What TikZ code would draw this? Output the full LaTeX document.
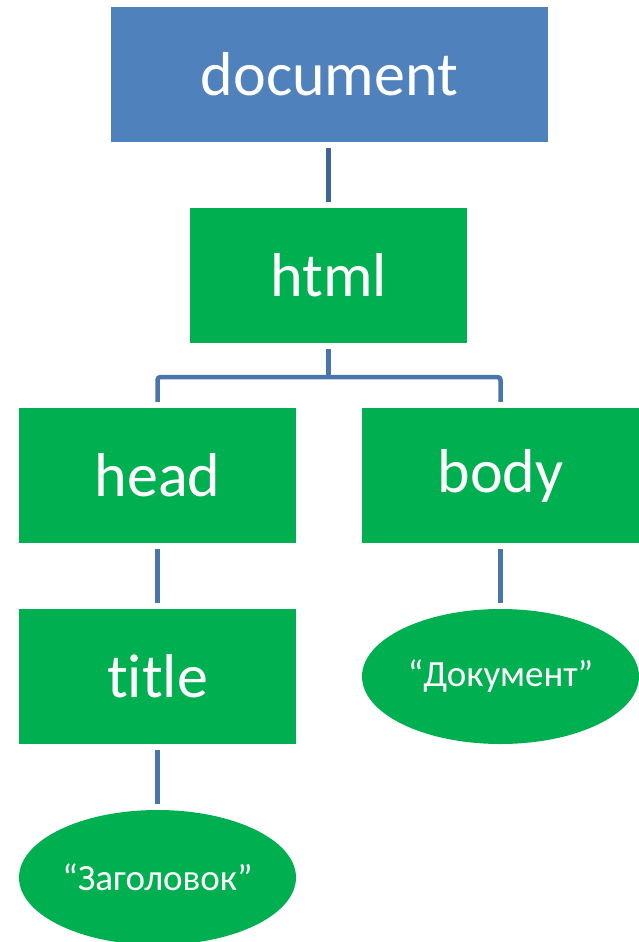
\documentclass[tikz,border=0pt]{standalone}
\usepackage{fontspec}
\setmainfont{Carlito}[Ligatures={NoCommon}]
\usetikzlibrary{shapes.geometric}
\definecolor{docblue}{HTML}{4F81BD}
\definecolor{leafgreen}{HTML}{00B050}
\definecolor{linkblue}{HTML}{4A74AC}
\definecolor{linkdark}{HTML}{3C6596}
\tikzset{
  box/.style={fill=leafgreen, text=white, minimum width=277pt, minimum height=135pt,
    inner sep=0pt, font=\fontsize{62}{70}\selectfont},
  rootbox/.style={box, fill=docblue, minimum width=437pt},
  leaf/.style={ellipse, fill=leafgreen, text=white, minimum width=277pt, minimum height=135pt,
    inner sep=0pt, font=\fontsize{37}{42}\selectfont},
  link/.style={draw=linkblue, line width=4.5pt, shorten <=6pt, shorten >=6pt},
}
\begin{document}
\begin{tikzpicture}[x=1pt, y=-1pt]
\useasboundingbox (0,0) rectangle (639,942);
% tree nodes
\node[rootbox] (doc) at (329.5,74.5) {document};
\node[box] (html) at (328.5,275.5) {html};
\node[box] (head) at (157.5,475.5) {head};
\node[box] (body) at (500.5,475.5) {body};
\node[box] (title) at (157.5,676.5) {title};
\node[leaf] (bodytext) at (500.5,676.5) {“Документ”};
\node[leaf] (titletext) at (157.5,877.5) {“Заголовок”};
% connectors
\coordinate (bar) at (328.5,377);
\draw[link, draw=linkdark] (html.north |- doc.south) -- (html.north);
\draw[link, shorten >=0pt] (html.south) -- (bar);
\draw[link, rounded corners=3pt] (head.north) |- (bar) -| (body.north);
\draw[link] (head.south) -- (title.north);
\draw[link] (body.south) -- (bodytext.north);
\draw[link] (title.south) -- (titletext.north);
\end{tikzpicture}
\end{document}
